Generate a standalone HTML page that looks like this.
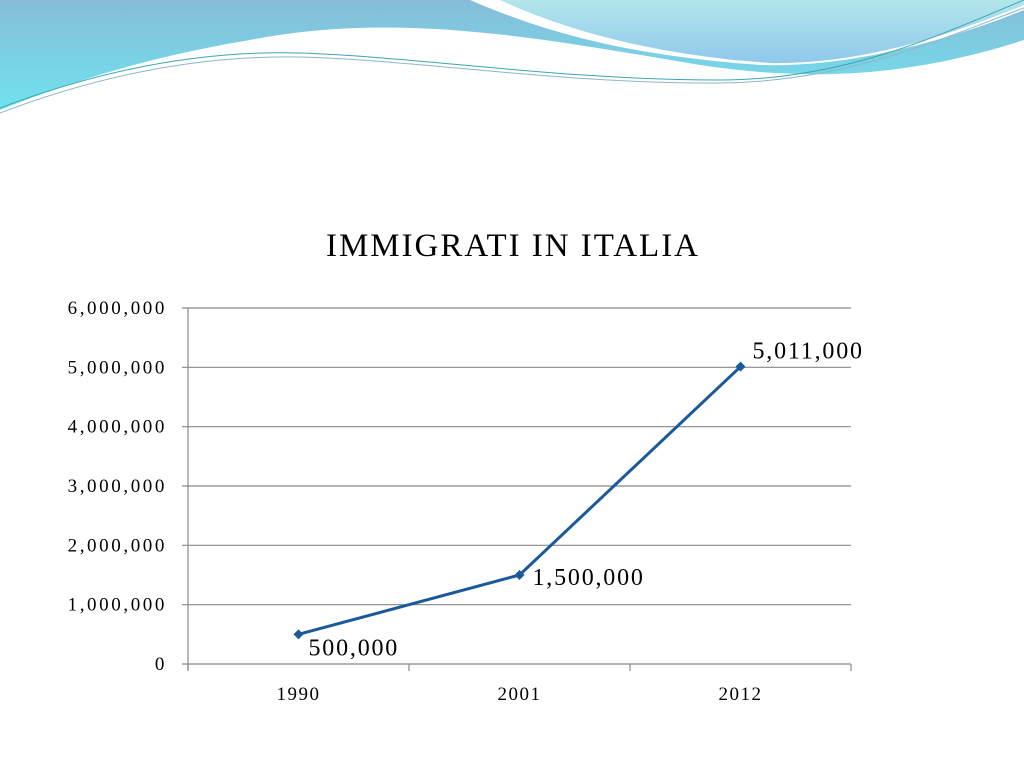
<!DOCTYPE html>
<html><head><meta charset="utf-8"><style>
html,body{margin:0;padding:0;width:1024px;height:768px;overflow:hidden;background:#fff}
svg{display:block}
text{font-family:"Liberation Serif",serif;fill:#000}
</style></head><body>
<svg id="chart" width="1024" height="768" viewBox="0 0 1024 768">
<defs>
<linearGradient id="g1" x1="0" y1="0" x2="0" y2="1"><stop offset="0" stop-color="#86bcd9"/><stop offset="1" stop-color="#6fe3ee"/></linearGradient>
<linearGradient id="g2" x1="0" y1="0" x2="0" y2="1"><stop offset="0" stop-color="#b2e6ea"/><stop offset="1" stop-color="#8fc8ec"/></linearGradient>
</defs>
<g>
<path d="M0,0 H1024 V40 C900,80 800,80 700,65 C550,40 400,10 250,40 C130,60 50,90 0,110 Z" fill="url(#g1)"/>
<path d="M470,0 C540,30 620,55 760,65 C850,68 950,40 1024,10 V0 Z" fill="#fff"/>
<path d="M500,0 C560,28 650,55 770,63 C860,65 950,35 1024,5 V0 Z" fill="url(#g2)"/>
<path d="M0,108 C100,70 200,50 300,53 C420,57 560,80 720,80 C850,80 950,30 1024,0" fill="none" stroke="#3aa6b0" stroke-width="1"/>
<path d="M0,113 C100,75 200,55 300,57 C420,60 560,84 720,83 C850,82 950,35 1024,8" fill="none" stroke="#8fb6c8" stroke-width="1"/>
</g>
<text x="512" y="256" text-anchor="middle" font-size="33" textLength="372" lengthAdjust="spacing">IMMIGRATI IN ITALIA</text>
<g id="grid"></g>
<g id="yax"></g>
<g id="xax"></g>
<g id="series"></g>
</svg>
<script>
const categories = ["1990","2001","2012"];
const values = [500000, 1500000, 5011000];
const valueLabels = ["500,000","1,500,000","5,011,000"];
const yTicks = [0,1000000,2000000,3000000,4000000,5000000,6000000];
const yTickLabels = ["0","1,000,000","2,000,000","3,000,000","4,000,000","5,000,000","6,000,000"];

const NS="http://www.w3.org/2000/svg";
const X0=188, X1=851, Y0=664, Y1=308, YMAX=6000000;
const bw=(X1-X0)/categories.length;
const xs=i=>X0+bw*(i+0.5);
const ys=v=>Y0-(v/YMAX)*(Y0-Y1);
function mk(tag,attrs,parent){const e=document.createElementNS(NS,tag);for(const k in attrs)e.setAttribute(k,attrs[k]);parent.appendChild(e);return e;}
const grid=document.getElementById('grid'),yax=document.getElementById('yax'),xax=document.getElementById('xax'),ser=document.getElementById('series');
yTicks.forEach((t,i)=>{
  const y=ys(t);
  const l=mk('line',{x1:182,x2:X1,y1:y,y2:y,stroke:'#888','stroke-width':1.2},grid);
  
  
  const tx=mk('text',{x:167,y:y+6,'text-anchor':'end','font-size':19,'letter-spacing':2.6},yax);
  tx.textContent=yTickLabels[i];
  
  
});
const ax=mk('line',{x1:X0,x2:X0,y1:Y1,y2:Y0+7,stroke:'#888','stroke-width':1.2},yax);


for(let i=0;i<=categories.length;i++){
  const x=X0+bw*i;
  const t=mk('line',{x1:x,x2:x,y1:Y0,y2:Y0+7,stroke:'#888','stroke-width':1.2},xax);
  
  
}
categories.forEach((c,i)=>{
  const t=mk('text',{x:xs(i),y:700,'text-anchor':'middle','font-size':19,'letter-spacing':1.5},xax);
  t.textContent=c;
  
  
});
const pts=values.map((v,i)=>xs(i)+','+ys(v)).join(' ');
const pl=mk('polyline',{points:pts,fill:'none',stroke:'#1b5a9a','stroke-width':3},ser);


values.forEach((v,i)=>{
  const x=xs(i),y=ys(v);
  const m=mk('polygon',{points:`${x},${y-5} ${x+5},${y} ${x},${y+5} ${x-5},${y}`,fill:'#1b5a9a'},ser);
  
  
  const t=mk('text',{x:x+(i===0?10:(i===1?13:12)),y:i===0?y+21:(i===1?y+10:y-8),'font-size':24,'letter-spacing':1.8},ser);
  t.textContent=valueLabels[i];
  
  
});
</script>
</body></html>
